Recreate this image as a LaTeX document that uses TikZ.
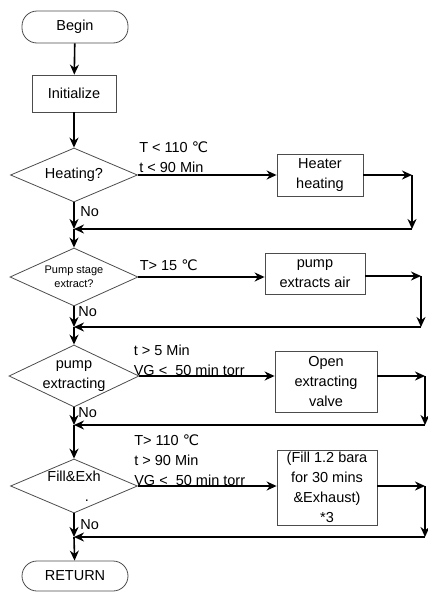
\documentclass[tikz,border=0pt]{standalone}
\usepackage{fontspec}
\setmainfont{Liberation Sans}
\newfontfamily\degfont{DejaVu Sans}
\usetikzlibrary{shapes.geometric,arrows.meta}
\newcommand{\degC}{{\degfont ℃}}

\begin{document}
\begin{tikzpicture}[x=1pt,y=-1pt,line width=.8pt,font=\fontsize{14.5}{20}\selectfont,
  term/.style={draw=black!70,rounded corners=15pt,minimum width=106pt,minimum height=32pt,inner sep=0pt},
  proc/.style={draw=black!70,align=center,inner xsep=2pt,inner ysep=0pt},
  decide/.style={draw=black!70,diamond,minimum width=127pt,minimum height=54pt,inner sep=0pt},
  flow/.style={line width=1.6pt,-{Stealth[length=10pt,width=9pt]}},
  cond/.style={anchor=south west,align=left,inner sep=1pt},
  nolab/.style={anchor=west,inner sep=0pt}]
\useasboundingbox (0,0) rectangle (428,592);
\node[term] (begin) at (75,27) {Begin};
\node[proc,minimum width=84pt,minimum height=37pt] (init) at (74,93.5) {Initialize};
\node[decide,label={[align=center]center:Heating?}] (d1) at (74,175) {};
\node[proc,minimum width=86pt,minimum height=42pt] (b1) at (320,175) {Heater\\heating};
\node[decide,minimum width=128pt,minimum height=58pt,
  label={[align=center,font=\fontsize{11}{14}\selectfont]center:Pump stage\\extract?}] (d2) at (74,277) {};
\node[proc,minimum width=100pt,minimum height=41pt] (b2) at (315,274) {pump\\extracts air};
\node[decide,minimum width=130pt,minimum height=62pt,label={[align=center]center:pump\\extracting}] (d3) at (74,376) {};
\node[proc,minimum width=102pt,minimum height=61pt] (b3) at (326,382) {Open\\extracting\\valve};
\node[decide,label={[align=center]center:Fill\&Exh\\\hspace*{26pt}.}] (d4) at (74,486) {};
\node[proc,minimum width=100pt,minimum height=75pt] (b4) at (327,487.5) {(Fill 1.2 bara\\for 30 mins\\\&Exhaust)\\*3};
\node[term,minimum height=30pt] (ret) at (75,576) {RETURN};

\node[cond] (c1) at ([yshift=1pt]d1.east) {T < 110 \degC\\t < 90 Min};
\node[cond] (c2) at ([yshift=5pt]d2.east) {T> 15 \degC};
\node[cond,xshift=-7pt] (c3) at ([yshift=-1pt]d3.east) {t > 5 Min\\VG <\ \ 50 min torr};
\node[cond,xshift=-5pt] (c4) at ([yshift=-1pt]d4.east) {T> 110 \degC\\t > 90 Min\\VG <\ \ 50 min torr};

\node[nolab] (n1) at (80,212) {No};
\node[nolab] (n2) at (78,312) {No};
\node[nolab] (n3) at (78,413) {No};
\node[nolab] (n4) at (80,525) {No};

\coordinate (m1) at (74,229);
\coordinate (m2) at (74,327);
\coordinate (m3) at (74,425);
\coordinate (m4) at (74,537);
\coordinate (r1a) at (412,175);
\coordinate (r1b) at (412,229);
\coordinate (r2a) at (421,276);
\coordinate (r2b) at (421,327);
\coordinate (r3a) at (425,376);
\coordinate (r3b) at (425,425);
\coordinate (r4a) at (425,486);
\coordinate (r4b) at (425,537);

\draw[flow] (begin) -- (init);
\draw[flow] (init) -- (d1);
\draw[flow] (d1) -- (m1);
\draw[flow] (m1) -- (d2);
\draw[flow] (d2) -- (m2);
\draw[flow] (m2) -- (d3);
\draw[flow] (d3) -- (m3);
\draw[flow] (m3) -- (d4);
\draw[flow] (d4) -- (m4);
\draw[flow] (m4) -- (ret);

\draw[flow] (d1.east) -- (d1.east -| b1.west);
\draw[flow] (b1.east |- r1a) -- (r1a);
\draw[flow] (r1a) -- (r1b);
\draw[flow] (r1b) -- (m1);
\draw[flow] (d2.east) -- (d2.east -| b2.west);
\draw[flow] (b2.east |- r2a) -- (r2a);
\draw[flow] (r2a) -- (r2b);
\draw[flow] (r2b) -- (m2);
\draw[flow] (d3.east) -- (d3.east -| b3.west);
\draw[flow] (b3.east |- r3a) -- (r3a);
\draw[flow] (r3a) -- (r3b);
\draw[flow] (r3b) -- (m3);
\draw[flow] (d4.east) -- (d4.east -| b4.west);
\draw[flow] (b4.east |- r4a) -- (r4a);
\draw[flow] (r4a) -- (r4b);
\draw[flow] (r4b) -- (m4);
\end{tikzpicture}
\end{document}
